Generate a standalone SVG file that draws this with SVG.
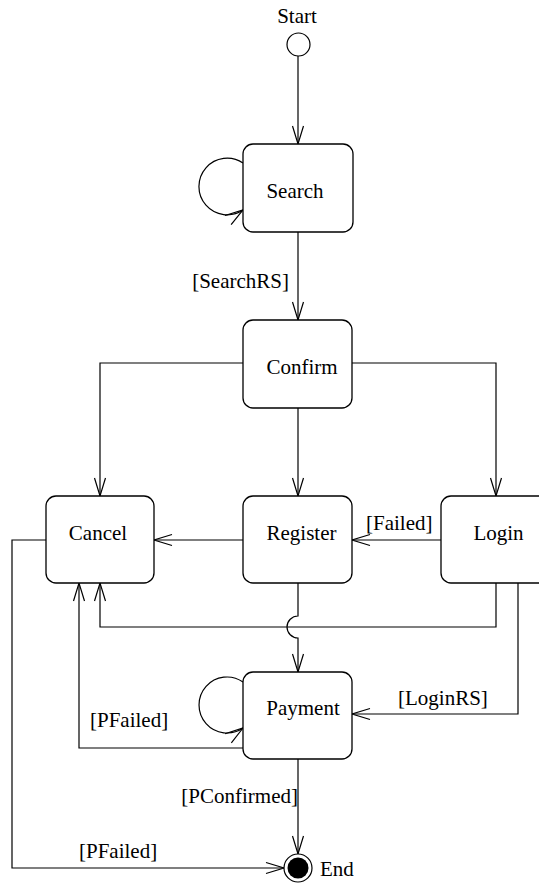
<svg xmlns="http://www.w3.org/2000/svg" width="539" height="884" viewBox="0 0 539 884">
<style>
.box{fill:#fff;stroke:#000;stroke-width:1.3}
text{font-family:'Liberation Serif',serif;font-size:21px;fill:#000}
.m{text-anchor:middle}
.e{text-anchor:end}
.c{fill:none;stroke:#000;stroke-width:1.2}
</style>
<defs>
<marker id="arr" markerUnits="userSpaceOnUse" markerWidth="20" markerHeight="14" refX="18" refY="6" orient="auto" overflow="visible">
<path d="M0,0.5 L18,6 L0,11.5" fill="none" stroke="#000" stroke-width="1.2"/>
</marker>
</defs>
<rect width="539" height="884" fill="#fff"/>
<g id="connectors">
<path class="c" d="M298,56 V144" marker-end="url(#arr)"/>
<path class="c" d="M243,163 A28.3,28.3 0 1 0 243,210" marker-end="url(#arr)"/>
<path class="c" d="M298,232 V320" marker-end="url(#arr)"/>
<path class="c" d="M243,363 H100 V496" marker-end="url(#arr)"/>
<path class="c" d="M298,408 V496" marker-end="url(#arr)"/>
<path class="c" d="M352,363 H496 V496" marker-end="url(#arr)"/>
<path class="c" d="M243,540 H154" marker-end="url(#arr)"/>
<path class="c" d="M441,540 H352" marker-end="url(#arr)"/>
<path class="c" d="M496,583 V627 H100 V583" marker-end="url(#arr)"/>
<path class="c" d="M298,583 V616 A11,11 0 0 0 298,638 V672" marker-end="url(#arr)"/>
<path class="c" d="M518,583 V714 H352" marker-end="url(#arr)"/>
<path class="c" d="M243,682 A28,28 0 1 0 243,728" marker-end="url(#arr)"/>
<path class="c" d="M243,748 H79 V583" marker-end="url(#arr)"/>
<path class="c" d="M298,759 V854" marker-end="url(#arr)"/>
<path class="c" d="M46,540 H12 V868 H284" marker-end="url(#arr)"/>
<text class="e" x="289" y="288" font-family="Liberation Serif">[SearchRS]</text>
<text x="366" y="530" font-family="Liberation Serif">[Failed]</text>
<text x="398" y="705" font-family="Liberation Serif">[LoginRS]</text>
<text x="90" y="727" font-family="Liberation Serif">[PFailed]</text>
<text class="e" x="298" y="803" font-family="Liberation Serif">[PConfirmed]</text>
<text x="79" y="858" font-family="Liberation Serif">[PFailed]</text>
</g>
<g id="start">
<circle cx="298.5" cy="44.5" r="11.5" fill="#fff" stroke="#000" stroke-width="1.2"/>
<text class="m" x="297" y="22.5" font-family="Liberation Serif">Start</text>
</g>
<g id="search">
<rect class="box" x="243" y="144" width="110" height="88" rx="10"/>
<text class="m" x="295" y="198" font-family="Liberation Serif">Search</text>
</g>
<g id="confirm">
<rect class="box" x="243" y="320" width="109" height="88" rx="10"/>
<text class="m" x="302" y="374" font-family="Liberation Serif">Confirm</text>
</g>
<g id="cancel">
<rect class="box" x="46" y="496" width="108" height="87" rx="10"/>
<text class="m" x="98" y="540" font-family="Liberation Serif">Cancel</text>
</g>
<g id="register">
<rect class="box" x="243" y="496" width="109" height="87" rx="10"/>
<text class="m" x="301.5" y="540" font-family="Liberation Serif">Register</text>
</g>
<g id="login">
<rect class="box" x="441" y="496" width="109" height="87" rx="10"/>
<text class="m" x="498.5" y="540" font-family="Liberation Serif">Login</text>
</g>
<g id="payment">
<rect class="box" x="243" y="672" width="109" height="87" rx="10"/>
<text class="m" x="303" y="715" font-family="Liberation Serif">Payment</text>
</g>
<g id="end">
<circle cx="298" cy="868" r="14" fill="#fff" stroke="#000" stroke-width="1.2"/>
<circle cx="298" cy="868" r="10.5" fill="#000"/>
<text x="320" y="876" font-family="Liberation Serif">End</text>
</g>
</svg>
